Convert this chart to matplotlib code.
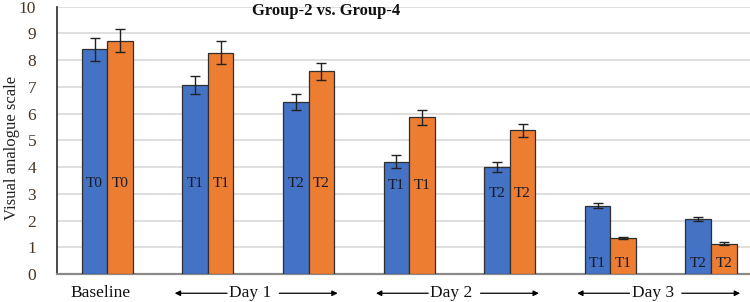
import matplotlib
matplotlib.use('Agg')
from matplotlib import pyplot as plt
from matplotlib import transforms
import numpy as np

# data
group2 = [8.4, 7.07, 6.42, 4.2, 4.0, 2.56, 2.06]
group4 = [8.72, 8.28, 7.58, 5.87, 5.37, 1.35, 1.13]
err2 = [0.43, 0.35, 0.3, 0.25, 0.2, 0.1, 0.08]
err4 = [0.43, 0.43, 0.33, 0.28, 0.25, 0.05, 0.05]
bar_tags = ['T0', 'T1', 'T2', 'T1', 'T2', 'T1', 'T2']
tag_y = [3.4, 3.4, 3.4, 3.3, 3.0, 0.4, 0.4]
days = [('Day 1', 1, 2), ('Day 2', 3, 4), ('Day 3', 5, 6)]

blue = '#4472C4'
orange = '#ED7D31'
serif = ['Liberation Serif', 'DejaVu Serif']

plt.rcParams['font.family'] = serif

fig = plt.figure(figsize=(7.5, 3.02), dpi=100)
ax = fig.add_axes([0.076, 0.0927, 0.939, 0.885])

x = np.arange(len(group2))
w = 0.254
ax.bar(x - w/2, group2, w, color=blue, edgecolor='#2f2f2f', linewidth=0.9, zorder=3)
ax.bar(x + w/2, group4, w, color=orange, edgecolor='#2f2f2f', linewidth=0.9, zorder=3)
ax.errorbar(x - w/2, group2, yerr=err2, fmt='none', ecolor='#222222', elinewidth=1, capsize=3.5, capthick=1, zorder=4)
ax.errorbar(x + w/2, group4, yerr=err4, fmt='none', ecolor='#222222', elinewidth=1, capsize=3.5, capthick=1, zorder=4)

for i, t in enumerate(bar_tags):
    ax.text(x[i] - w/2, tag_y[i], t, ha='center', va='center', fontsize=11, color='#1a1a2a', zorder=5)
    ax.text(x[i] + w/2, tag_y[i], t, ha='center', va='center', fontsize=11, color='#1a1a2a', zorder=5)

ax.set_xlim(-0.5, 6.5)
ax.set_ylim(0, 10)
ax.set_yticks(range(0, 11))
ax.tick_params(axis='y', length=0, labelsize=12.5, labelcolor='#4a3624', pad=15)
ax.tick_params(axis='x', length=0, labelbottom=False)
ax.yaxis.grid(True, color='#d9d9d9', linewidth=1.2, zorder=0)
ax.set_axisbelow(True)
for s in ['top', 'right']:
    ax.spines[s].set_visible(False)
ax.spines['left'].set_color('#3a3a3a')
ax.spines['left'].set_linewidth(1.3)
ax.spines['bottom'].set_color('#8a8a8a')
ax.spines['bottom'].set_linewidth(1.6)

fig.text(0.016, 0.51, 'Visual analogue scale', rotation=90, ha='center', va='center',
         fontsize=12, color='#222222')

# x labels with arrows
trans = transforms.blended_transform_factory(ax.transData, ax.transAxes)
ly = -0.072
ax.text(-0.07, ly, 'Baseline', transform=trans, ha='center', va='center', fontsize=12.5, color='#111111')
for name, a, b in days:
    c = (a + b) / 2
    ax.text(c - 0.08, ly, name, transform=trans, ha='center', va='center', fontsize=12.5, color='#111111')
    ap = dict(arrowstyle='-|>', color='black', lw=0.9, mutation_scale=8, shrinkA=0, shrinkB=0)
    ax.annotate('', xy=(a - 0.33, ly), xytext=(c - 0.31, ly), xycoords=trans, textcoords=trans,
                arrowprops=ap, annotation_clip=False)
    ax.annotate('', xy=(b + 0.29, ly), xytext=(c + 0.21, ly), xycoords=trans, textcoords=trans,
                arrowprops=ap, annotation_clip=False)

fig.text(0.435, 0.963, 'Group-2 vs. Group-4', ha='center', va='center', fontsize=12,
         fontweight='bold', color='#111111')

plt.savefig('out.png', dpi=100)
plt.close(fig)
